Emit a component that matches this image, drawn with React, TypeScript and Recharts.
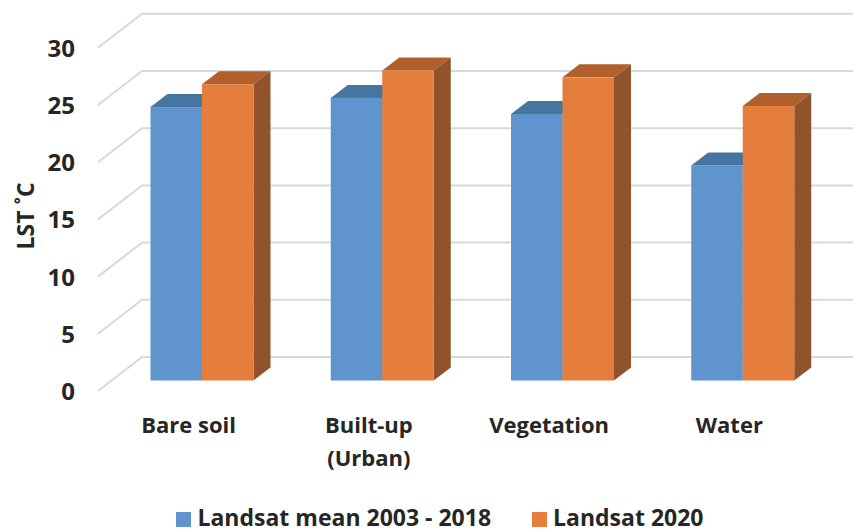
import { Bar, BarChart, CartesianGrid, Label, Legend, XAxis, YAxis } from "recharts";

const categories = ["Bare soil", "Built-up (Urban)", "Vegetation", "Water"];
const meanValues = [23.9, 24.7, 23.3, 18.8];
const latestValues = [25.9, 27.1, 26.5, 24.0];
const yTicks = [0, 5, 10, 15, 20, 25, 30];

const data = categories.map((name, i) => ({ name, mean: meanValues[i], latest: latestValues[i] }));

const FONT = "'Open Sans', sans-serif";
const TEXT = "#262626";

// 3D look: the bars sit between the front edge of the floor and the back wall
const BAR_DX = 17;
const BAR_DY = 13;

function Bar3D(props: any) {
  const { x, y, width, height, fill, topFill, sideFill } = props;
  const r = x + width;
  const b = y + height;
  return (
    <g>
      <polygon points={`${x},${y} ${x + BAR_DX},${y - BAR_DY} ${r + BAR_DX},${y - BAR_DY} ${r},${y}`} fill={topFill} />
      <polygon points={`${r},${y} ${r + BAR_DX},${y - BAR_DY} ${r + BAR_DX},${b - BAR_DY} ${r},${b}`} fill={sideFill} />
      <rect x={x} y={y} width={width} height={height} fill={fill} />
    </g>
  );
}

function WallLine(props: any) {
  const { y1, key } = props;
  return (
    <polyline
      key={key}
      points={`98,${y1 + 10.5} 142,${y1 - 23.5} 853,${y1 - 23.5}`}
      fill="none"
      stroke="#D9D9D9"
      strokeWidth={2}
    />
  );
}

function YTick(props: any) {
  const { y, payload } = props;
  return (
    <text x={75} y={y + 10.5} dy={9} textAnchor="end" fontFamily={FONT} fontWeight={700} fontSize={24} fill={TEXT}>
      {payload.value}
    </text>
  );
}

function XTick(props: any) {
  const { x, payload } = props;
  const lines = payload.value === "Built-up (Urban)" ? ["Built-up", "(Urban)"] : [payload.value];
  return (
    <text textAnchor="middle" fontFamily={FONT} fontWeight={700} fontSize={22} fill={TEXT}>
      {lines.map((line: string, i: number) => (
        <tspan key={line} x={x - 13} y={433 + i * 33}>
          {line}
        </tspan>
      ))}
    </text>
  );
}

export default function App() {
  return (
    <div style={{ position: "absolute", left: 0, top: 0, width: 853, height: 532, background: "#fff" }}>
      <BarChart
        width={853}
        height={532}
        data={data}
        barSize={51.5}
        barGap={0}
        margin={{ top: 37.3, right: 20.5, left: 51.5, bottom: 59.5 }}
      >
        <CartesianGrid vertical={false} horizontal={WallLine as any} />
        <XAxis dataKey="name" axisLine={false} tickLine={false} tick={XTick as any} height={60} interval={0} />
        <YAxis
          domain={[0, 30]}
          ticks={yTicks}
          width={60}
          axisLine={false}
          tickLine={false}
          tick={YTick as any}
        >
          <Label
            value="LST ˚C"
            angle={-90}
            position="center"
            dx={-56}
            dy={7}
            style={{ fontFamily: FONT, fontWeight: 700, fontSize: 23, fill: TEXT }}
          />
        </YAxis>
        <Legend
          iconType="square"
          iconSize={15}
          itemSorter={null}
          wrapperStyle={{ top: 501, left: 39, width: 812, fontFamily: FONT, fontWeight: 700, fontSize: 23 }}
          formatter={(value: string, entry: any) => (
            <span style={{ color: TEXT, marginLeft: 2, marginRight: entry.dataKey === "mean" ? 31 : 0 }}>{value}</span>
          )}
        />
        <Bar
          dataKey="mean"
          name="Landsat mean 2003 - 2018"
          fill="#5F94CC"
          isAnimationActive={false}
          shape={(p: any) => <Bar3D {...p} topFill="#46759F" sideFill="#46759F" />}
        />
        <Bar
          dataKey="latest"
          name="Landsat 2020"
          fill="#E57D3C"
          isAnimationActive={false}
          shape={(p: any) => <Bar3D {...p} topFill="#B25F2E" sideFill="#90532B" />}
        />
      </BarChart>
    </div>
  );
}
